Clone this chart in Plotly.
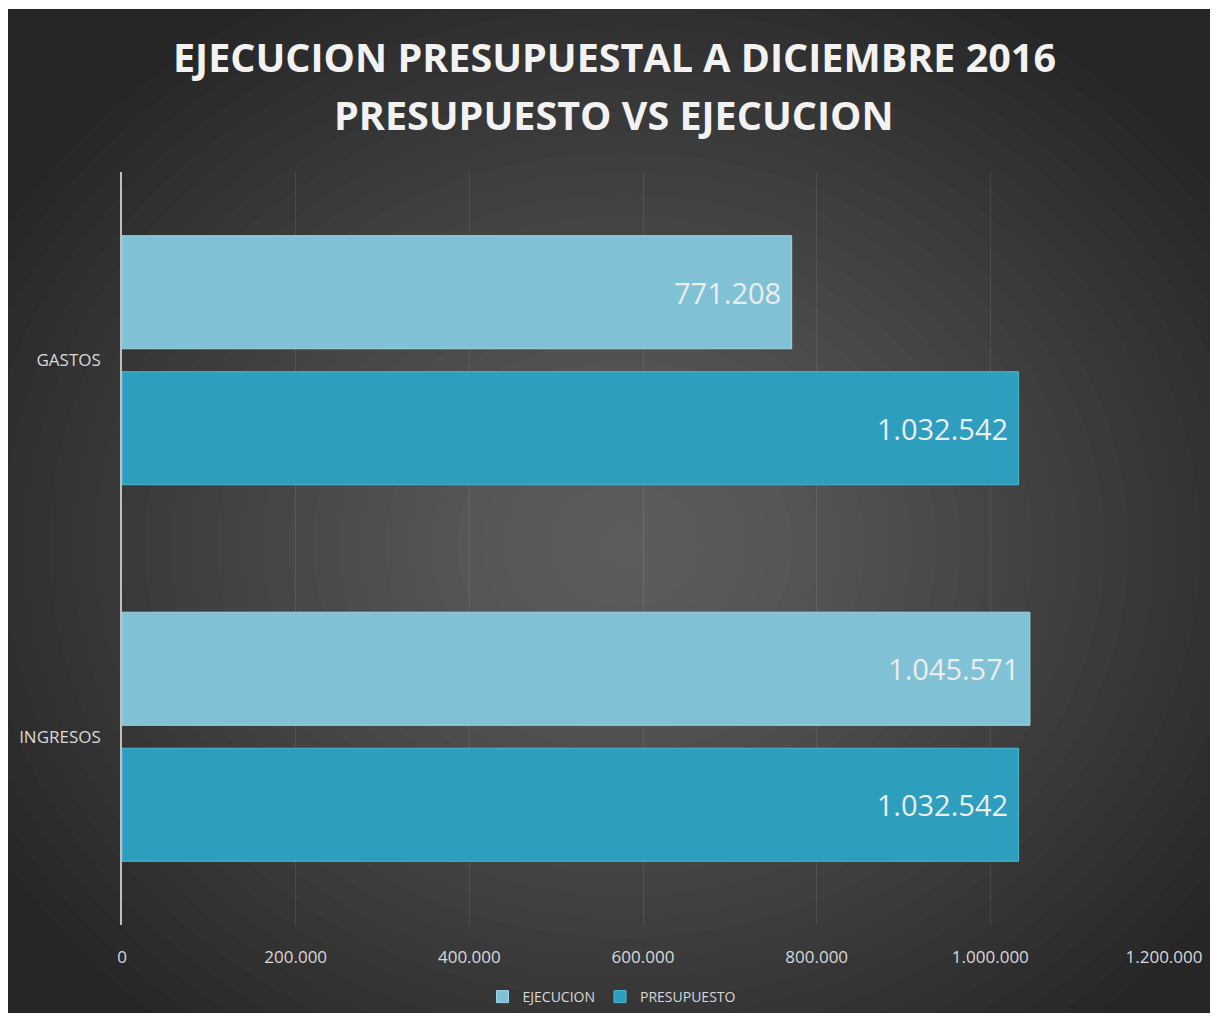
import plotly.graph_objects as go

# chart data
categorias = ["GASTOS", "INGRESOS"]
ejecucion = [771208, 1045571]
presupuesto = [1032542, 1032542]
series_names = ["EJECUCION", "PRESUPUESTO"]
x_ticks = [0, 200000, 400000, 600000, 800000, 1000000, 1200000]
titulo = ["EJECUCION PRESUPUESTAL A DICIEMBRE 2016", "PRESUPUESTO VS EJECUCION"]

# the page body adds an 8px margin on every side, so keep the figure
# 16px smaller than the window and work in window pixel coordinates
OFF = 8
W, H = 1218 - 2 * OFF, 1021 - 2 * OFF
ML, MT = 122 - OFF, 172 - OFF
MR, MB = W - (1164 - OFF), H - (925 - OFF)
PW, PH = W - ML - MR, H - MT - MB


def px_x(px):
    # window pixel column -> paper x
    return (px - OFF - ML) / PW


def px_y(py):
    # window pixel row (from top) -> paper y
    return (H - MB - (py - OFF)) / PH


fig = go.Figure()

fig.add_trace(go.Bar(
    y=categorias, x=ejecucion, name=series_names[0], orientation="h",
    marker=dict(color="#80C1D6", line=dict(color="#9ED8EA", width=1)),
    texttemplate="%{x:,d}\u00a0", textposition="inside", insidetextanchor="end",
    insidetextfont=dict(family="Open Sans", size=29, color="#EDEDED"),
    constraintext="none", hoverinfo="x+name",
))
fig.add_trace(go.Bar(
    y=categorias, x=presupuesto, name=series_names[1], orientation="h",
    marker=dict(color="#2E9EBE", line=dict(color="#4BB9D6", width=1)),
    texttemplate="%{x:,d}\u00a0", textposition="inside", insidetextanchor="end",
    insidetextfont=dict(family="Open Sans", size=29, color="#EDEDED"),
    constraintext="none", hoverinfo="x+name",
))

# background: dark panel with a soft radial glow built from stacked ellipses
shapes = [dict(type="rect", xref="paper", yref="paper", layer="below",
               x0=px_x(0), x1=px_x(1240), y0=px_y(1040), y1=px_y(9),
               fillcolor="#262626", line=dict(width=0))]
cx, cy, rx, ry, n = 625, 545, 720, 620, 30
for i in range(n):
    f = 1 - i / n
    shapes.append(dict(type="circle", xref="paper", yref="paper", layer="below",
                       x0=px_x(cx - rx * f), x1=px_x(cx + rx * f),
                       y0=px_y(cy + ry * f), y1=px_y(cy - ry * f),
                       fillcolor="rgba(255,255,255,0.0102)", line=dict(width=0)))

annotations = []
for line, ypix in zip(titulo, [57, 115]):
    annotations.append(dict(text="<b>%s</b>" % line, xref="paper", yref="paper",
                            x=px_x(614), y=px_y(ypix), showarrow=False,
                            xanchor="center", yanchor="middle",
                            font=dict(family="Open Sans", size=39.5, color="#F2F2F2")))

fig.update_layout(
    width=W, height=H,
    # no auto-expansion: the legend sits in the bottom margin
    margin=dict(l=ML, r=MR, t=MT, b=MB, autoexpand=False),
    paper_bgcolor="white",
    plot_bgcolor="rgba(0,0,0,0)",
    separators=",.",
    barmode="group",
    bargap=0.2775,
    bargroupgap=0.169,
    shapes=shapes,
    annotations=annotations,
    font=dict(family="Open Sans", color="#D9D9D9"),
    showlegend=True,
    legend=dict(orientation="h", x=px_x(612), xanchor="center",
                y=px_y(997), yanchor="middle",
                itemwidth=30, tracegroupgap=0,
                font=dict(size=14, color="#D9D9D9"),
                bgcolor="rgba(0,0,0,0)"),
    xaxis=dict(range=[0, 1200000], tickvals=x_ticks, tickformat=",d",
               showgrid=True, gridcolor="rgba(255,255,255,0.09)", gridwidth=1,
               zeroline=False, showline=False, ticks="",
               ticklabelstandoff=20,
               tickfont=dict(family="Open Sans", size=17, color="#D9D9D9")),
    yaxis=dict(autorange="reversed", showgrid=False, zeroline=False,
               showline=True, linecolor="#BFBFBF", linewidth=1.5, ticks="",
               ticklabelstandoff=16,
               tickfont=dict(family="Open Sans", size=17, color="#D9D9D9")),
)

fig.write_html("out.html")
